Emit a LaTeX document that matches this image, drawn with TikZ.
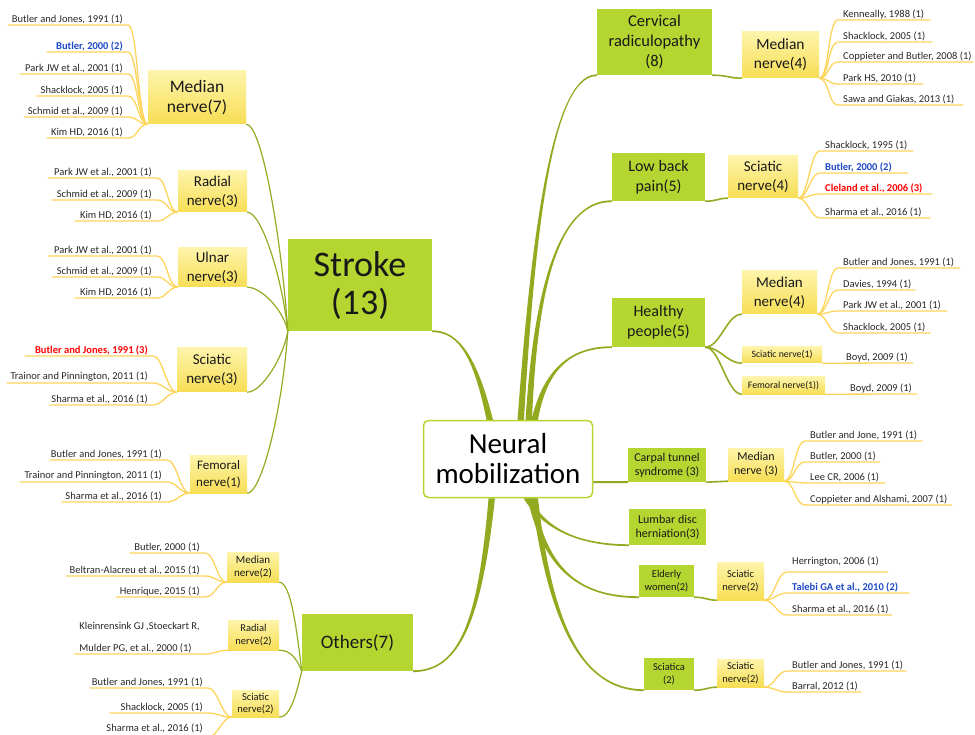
\documentclass[tikz,border=0pt]{standalone}
\usepackage{fontspec}
\setmainfont{Carlito}
\usetikzlibrary{calc}
\definecolor{limec}{RGB}{181,213,48}
\definecolor{trunkc}{RGB}{146,170,32}
\definecolor{branchc}{RGB}{146,172,35}
\definecolor{refc}{RGB}{253,213,90}
\definecolor{yelT}{RGB}{254,244,170}
\definecolor{yelB}{RGB}{247,222,85}
\definecolor{reftext}{RGB}{40,40,40}
\definecolor{refblue}{RGB}{30,75,200}
\definecolor{refred}{RGB}{255,0,0}
\definecolor{boxtext}{RGB}{25,25,25}
\newcommand\reffont{\fontsize{10.5}{12}\selectfont}
\newcommand\fs[2]{\fontsize{#1}{#2}\selectfont}
\newcommand\trw{3.2}
\tikzset{
 limebox/.style={fill=limec, inner sep=0pt, align=center, text=boxtext},
 yelbox/.style={top color=yelT, bottom color=yelB, inner sep=0pt, align=center, text=boxtext},
 refL/.style={anchor=south east, inner xsep=5pt, inner ysep=1pt, font=\reffont, text=reftext},
 refR/.style={anchor=south west, inner xsep=5pt, inner ysep=1pt, font=\reffont, text=reftext},
 thinb/.style={draw=branchc, line width=1.2pt},
 midb/.style={draw=branchc, line width=1.6pt},
 refline/.style={draw=refc, line width=1.3pt},
 hl blue/.style={text=refblue, font=\reffont\bfseries},
 hl red/.style={text=refred, font=\reffont\bfseries},
}
% reference node, text right aligned (left side)
\newcommand\rfL[6][]{\pgfmathsetmacro\rfw{#4-#3-10}\node[refL,#1] (#2) at (#4,#5) {\makebox[\rfw pt][r]{#6}};}
% reference node, text left aligned (right side)
\newcommand\rfR[6][]{\pgfmathsetmacro\rfw{#4-#3-10}\node[refR,#1] (#2) at (#3,#5) {\makebox[\rfw pt][l]{#6}};}
\newcommand\lkL[2]{\draw[refline] (#1.south west) .. controls +(-10,0) and +(10,0) .. (#2.south east) -- (#2.south west);}
\newcommand\lkR[2]{\draw[refline] (#1.south east) .. controls +(10,0) and +(-10,0) .. (#2.south west) -- (#2.south east);}
\newcommand\trunkpath[5]{%
 \pgfmathsetmacro\tka{(#5)*0.9}\pgfmathsetmacro\tkb{0-(#5)*0.9}%
 \fill[trunkc] ($(#1)+(-\trw,0)$) .. controls ($(#2)+(-\trw*0.6,0)$) and ($(#3)+(0,\tkb)$) .. ($(#4)+(0,\tkb)$) -- ($(#4)+(0,\tka)$) .. controls ($(#3)+(0,\tka)$) and ($(#2)+(\trw*0.6,0)$) .. ($(#1)+(\trw,0)$) -- cycle;}
\begin{document}
\begin{tikzpicture}[x=1pt,y=-1pt]
\fill[white] (0,0) rectangle (975,735);
\useasboundingbox (0,0) rectangle (975,735);

% ---------- main nodes ----------
\node[draw=limec, line width=1.5pt, rounded corners=5pt, fill=white, minimum width=169pt, minimum height=77pt, inner sep=0pt, align=center, text=black, font=\fs{29}{30}] (nm) at (508,459) {Neural\\mobilization};
\node[limebox, minimum width=144pt, minimum height=92pt, font=\fs{36}{38}] (st) at (360,285) {Stroke\\(13)};
\node[limebox, minimum width=111pt, minimum height=57pt, font=\fs{19}{22}] (ot) at (357.5,642.5) {Others(7)};

% left nerves (stroke)
\node[yelbox, minimum width=98pt, minimum height=53pt, font=\fs{17.5}{20}] (ml7) at (197,97.5) {Median\\nerve(7)};
\node[yelbox, minimum width=69pt, minimum height=41pt, font=\fs{15}{19}] (rl3) at (212.5,191.5) {Radial\\nerve(3)};
\node[yelbox, minimum width=69pt, minimum height=39pt, font=\fs{15}{19}] (ul3) at (212.5,267.5) {Ulnar\\nerve(3)};
\node[yelbox, minimum width=70pt, minimum height=44pt, font=\fs{15}{19}] (sl3) at (212,370) {Sciatic\\nerve(3)};
\node[yelbox, minimum width=57pt, minimum height=38pt, font=\fs{13}{17}] (fl1) at (218.5,474) {Femoral\\nerve(1)};

% others nerves
\node[yelbox, minimum width=52pt, minimum height=30pt, font=\fs{11}{13}] (mo2) at (253,567) {Median\\nerve(2)};
\node[yelbox, minimum width=51pt, minimum height=30pt, font=\fs{10.5}{12.5}] (ro2) at (253.5,635) {Radial\\nerve(2)};
\node[yelbox, minimum width=47pt, minimum height=27pt, font=\fs{10.5}{12.5}] (so2) at (255.5,703.5) {Sciatic\\nerve(2)};

% right side
\node[limebox, minimum width=115pt, minimum height=66pt, font=\fs{16.5}{20}] (cr) at (654.5,42) {Cervical\\radiculopathy\\(8)};
\node[yelbox, minimum width=77pt, minimum height=46pt, font=\fs{15.5}{19}] (mc4) at (780.5,55) {Median\\nerve(4)};
\node[limebox, minimum width=93pt, minimum height=48pt, font=\fs{16}{20}] (lb) at (658.5,177) {Low back\\pain(5)};
\node[yelbox, minimum width=70pt, minimum height=42pt, font=\fs{15}{19}] (sb4) at (763,177) {Sciatic\\nerve(4)};
\node[limebox, minimum width=93pt, minimum height=49pt, font=\fs{16}{20}] (hp) at (658.5,322.5) {Healthy\\people(5)};
\node[yelbox, minimum width=75pt, minimum height=43pt, font=\fs{15}{19}] (mh4) at (779.5,292.5) {Median\\nerve(4)};
\node[yelbox, minimum width=80pt, minimum height=16pt, font=\fs{9.8}{11}] (sh1) at (782,355) {Sciatic nerve(1)};
\node[yelbox, minimum width=83pt, minimum height=17pt, font=\fs{9.8}{11}] (fh1) at (783.5,385.5) {Femoral nerve(1))};
\node[limebox, minimum width=78pt, minimum height=34pt, font=\fs{12}{14}] (ct) at (667,465) {Carpal tunnel\\syndrome (3)};
\node[yelbox, minimum width=56pt, minimum height=33pt, font=\fs{12}{14}] (mc3) at (756,464.5) {Median\\nerve (3)};
\node[limebox, minimum width=77pt, minimum height=36pt, font=\fs{12}{14}] (ld) at (667.5,527) {Lumbar disc\\herniation(3)};
\node[limebox, minimum width=55pt, minimum height=32pt, font=\fs{10.5}{12.5}] (ew) at (666.5,581) {Elderly\\women(2)};
\node[yelbox, minimum width=47pt, minimum height=38pt, font=\fs{10.5}{12.5}] (se2) at (740.5,581) {Sciatic\\nerve(2)};
\node[limebox, minimum width=50pt, minimum height=32pt, font=\fs{10.5}{12.5}] (sc) at (669,674) {Sciatica\\(2)};
\node[yelbox, minimum width=47pt, minimum height=28pt, font=\fs{10.5}{12.5}] (ss2) at (740.5,673) {Sciatic\\nerve(2)};

% ---------- trunks from the centre ----------
\coordinate (s1) at ($(nm.north west)+(67,0)$);
\coordinate (s2) at ($(nm.north west)+(98,0)$);
\coordinate (s3) at ($(nm.north west)+(106,0)$);
\coordinate (s4) at ($(nm.north west)+(112,0)$);
\coordinate (b1) at ($(nm.south west)+(69,0)$);
\coordinate (b2) at ($(nm.south west)+(104,0)$);
\coordinate (b3) at ($(nm.south west)+(108,0)$);
\coordinate (b4) at ($(nm.south west)+(112,0)$);
\coordinate (cE) at ($(nm.south east)+(0,-16)$);
\trunkpath{s1}{476,360}{460,331}{st.south east}{-1}
\trunkpath{s2}{532,250}{550,75}{cr.south west}{1}
\trunkpath{s3}{535,300}{555,201}{lb.south west}{1}
\trunkpath{s4}{545,370}{570,347}{hp.south west}{1}
\trunkpath{b1}{480,620}{460,671}{ot.south east}{1}
\trunkpath{b2}{545,530}{580,545}{ld.south west}{-1}
\trunkpath{b3}{545,570}{580,597}{ew.south west}{-1}
\trunkpath{b4}{550,620}{580,690}{sc.south west}{-1}
\draw[draw=trunkc, line width=2pt] (cE) -- (ct.south west);

% ---------- second level connectors ----------
\draw[thinb] (st.south west) .. controls +(-6,-90) and +(16,0) .. (ml7.south east);
\draw[thinb] (st.south west) .. controls +(-5,-50) and +(15,0) .. (rl3.south east);
\draw[thinb] (st.south west) .. controls +(-4,-20) and +(15,0) .. (ul3.south east);
\draw[thinb] (st.south west) .. controls +(-4,25) and +(15,0) .. (sl3.south east);
\draw[thinb] (st.south west) .. controls +(-5,75) and +(15,0) .. (fl1.south east);
\draw[thinb] (ot.south west) .. controls +(-5,-40) and +(12,0) .. (mo2.south east);
\draw[thinb] (ot.south west) .. controls +(-5,-12) and +(12,0) .. (ro2.south east);
\draw[thinb] (ot.south west) .. controls +(-5,20) and +(12,0) .. (so2.south east);
\draw[midb] (cr.south east) .. controls +(15,0) and +(-12,0) .. (mc4.south west);
\draw[midb] (lb.south east) .. controls +(12,0) and +(-10,0) .. (sb4.south west);
\draw[midb] (hp.south east) .. controls +(15,0) and +(-15,0) .. (mh4.south west);
\draw[midb] (hp.south east) .. controls +(15,0) and +(-15,0) .. (sh1.south west);
\draw[midb] (hp.south east) .. controls +(15,0) and +(-15,0) .. (fh1.south west);
\draw[midb] (ct.south east) -- (mc3.south west);
\draw[midb] (ew.south east) .. controls +(12,0) and +(-10,0) .. (se2.south west);
\draw[midb] (sc.south east) .. controls +(12,0) and +(-10,0) .. (ss2.south west);

% ---------- references: stroke ----------
\rfL{a1}{8}{128}{25}{Butler and Jones, 1991 (1)}
\rfL[hl blue]{a2}{47}{128}{52}{Butler, 2000 (2)}
\rfL{a3}{20}{128}{74}{Park JW et al., 2001 (1)}
\rfL{a4}{37}{128}{96}{Shacklock, 2005 (1)}
\rfL{a5}{24}{128}{117}{Schmid et al., 2009 (1)}
\rfL{a6}{47}{128}{138}{Kim HD, 2016 (1)}
\foreach \r in {a1,a2,a3,a4,a5,a6} {\lkL{ml7}{\r}}

\rfL{b1r}{48}{157}{178}{Park JW et al., 2001 (1)}
\rfL{b2r}{52}{157}{200}{Schmid et al., 2009 (1)}
\rfL{b3r}{75}{157}{221}{Kim HD, 2016 (1)}
\foreach \r in {b1r,b2r,b3r} {\lkL{rl3}{\r}}

\rfL{c1}{48}{157}{256}{Park JW et al., 2001 (1)}
\rfL{c2}{52}{157}{277}{Schmid et al., 2009 (1)}
\rfL{c3}{75}{157}{298}{Kim HD, 2016 (1)}
\foreach \r in {c1,c2,c3} {\lkL{ul3}{\r}}

\rfL[hl red]{d1}{25}{153}{356}{Butler and Jones, 1991 (3)}
\rfL{d2}{7}{153}{383}{Trainor and Pinnington, 2011 (1)}
\rfL{d3}{50}{153}{405}{Sharma et al., 2016 (1)}
\foreach \r in {d1,d2,d3} {\lkL{sl3}{\r}}

\rfL{e1}{50}{167}{460}{Butler and Jones, 1991 (1)}
\rfL{e2}{20}{167}{482}{Trainor and Pinnington, 2011 (1)}
\rfL{e3}{62}{167}{502}{Sharma et al., 2016 (1)}
\foreach \r in {e1,e2,e3} {\lkL{fl1}{\r}}

% ---------- references: others ----------
\rfL{f1}{130}{205}{553}{Butler, 2000 (1)}
\rfL{f2}{66}{205}{576}{Beltran-Alacreu et al., 2015 (1)}
\rfL{f3}{116}{205}{597}{Henrique, 2015 (1)}
\foreach \r in {f1,f2,f3} {\lkL{mo2}{\r}}

\node[refL, align=left] (g1) at (205,654) {Kleinrensink GJ ,Stoeckart R,\\[10pt]Mulder PG, et al., 2000 (1)};
\lkL{ro2}{g1}

\rfL{h1}{90}{208}{688}{Butler and Jones, 1991 (1)}
\rfL{h2}{110}{208}{713}{Shacklock, 2005 (1)}
\rfL[inner ysep=4pt]{h3}{100}{208}{737}{Sharma et al., 2016 (1)}
\foreach \r in {h1,h2,h3} {\lkL{so2}{\r}}

% ---------- references: right side ----------
\rfR{i1}{838}{930}{20}{Kenneally, 1988 (1)}
\rfR{i2}{838}{932}{42}{Shacklock, 2005 (1)}
\rfR{i3}{838}{973}{62}{Coppieter and Butler, 2008 (1)}
\rfR{i4}{838}{923}{84}{Park HS, 2010 (1)}
\rfR{i5}{838}{963}{105}{Sawa and Giakas, 2013 (1)}
\foreach \r in {i1,i2,i3,i4,i5} {\lkR{mc4}{\r}}

\rfR{j1}{820}{913}{151}{Shacklock, 1995 (1)}
\rfR[hl blue]{j2}{820}{908}{173}{Butler, 2000 (2)}
\rfR[hl red]{j3}{820}{932}{194}{Cleland et al., 2006 (3)}
\rfR{j4}{820}{930}{218}{Sharma et al., 2016 (1)}
\foreach \r in {j1,j2,j3,j4} {\lkR{sb4}{\r}}

\rfR{k1}{838}{960}{268}{Butler and Jones, 1991 (1)}
\rfR{k2}{838}{915}{290}{Davies, 1994 (1)}
\rfR{k3}{838}{947}{311}{Park JW et al., 2001 (1)}
\rfR{k4}{838}{930}{333}{Shacklock, 2005 (1)}
\foreach \r in {k1,k2,k3,k4} {\lkR{mh4}{\r}}

\rfL{l1}{822}{913}{363}{Boyd, 2009 (1)}
\draw[refline] (sh1.south east) -- (l1.south east);
\rfL{l2}{825}{917}{394}{Boyd, 2009 (1)}
\draw[refline] (fh1.south east) -- (l2.south east);

\rfR{m1}{805}{922}{441}{Butler and Jone, 1991 (1)}
\rfR{m2}{805}{880}{462}{Butler, 2000 (1)}
\rfR{m3}{805}{885}{483}{Lee CR, 2006 (1)}
\rfR{m4}{805}{952}{505}{Coppieter and Alshami, 2007 (1)}
\foreach \r in {m1,m2,m3,m4} {\lkR{mc3}{\r}}

\rfR[inner ysep=5pt]{n1}{787}{888}{572}{Herrington, 2006 (1)}
\rfR[hl blue]{n2}{787}{909}{593}{Talebi GA et al., 2010 (2)}
\rfR{n3}{787}{892}{615}{Sharma et al., 2016 (1)}
\foreach \r in {n1,n2,n3} {\lkR{se2}{\r}}

\rfR{o1}{787}{906}{671}{Butler and Jones, 1991 (1)}
\rfR{o2}{787}{861}{692}{Barral, 2012 (1)}
\foreach \r in {o1,o2} {\lkR{ss2}{\r}}
\end{tikzpicture}
\end{document}
